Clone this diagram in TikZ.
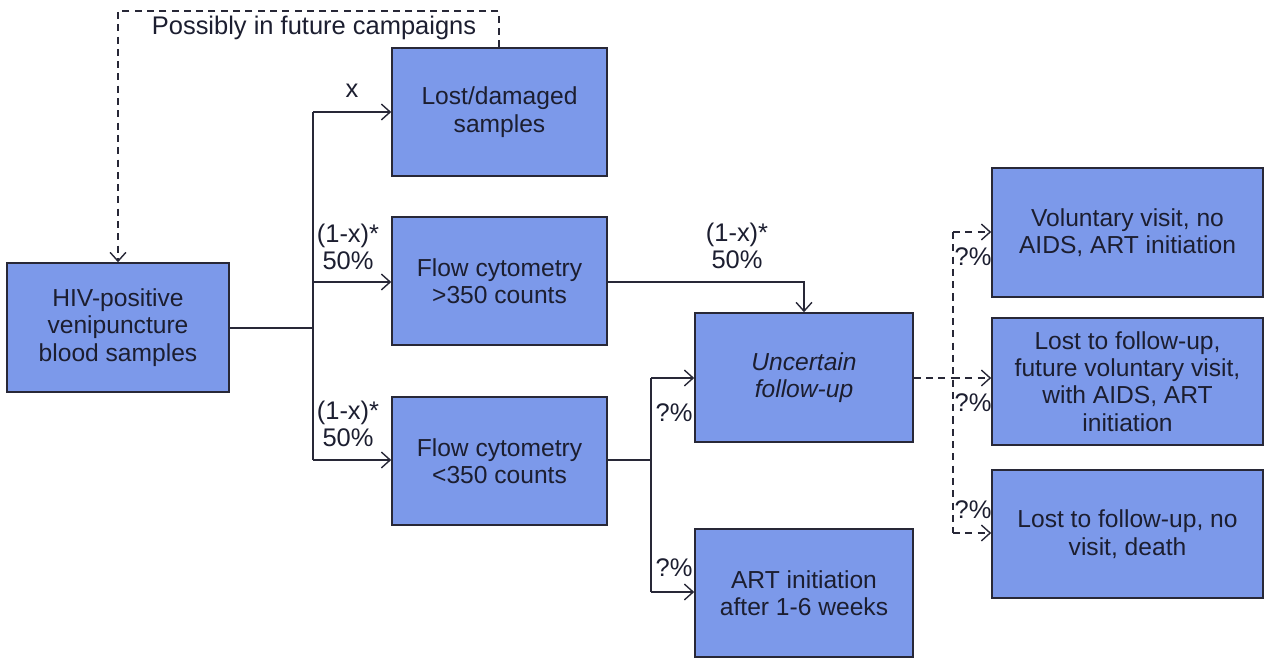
\documentclass[tikz,border=0pt]{standalone}
\usepackage{fontspec}
\setmainfont{Liberation Sans}
\usetikzlibrary{arrows.meta}
\definecolor{boxblue}{RGB}{124,153,234}
\definecolor{boxline}{RGB}{40,40,55}
\definecolor{txt}{RGB}{28,30,48}
\tikzset{
  box/.style={draw=boxline, line width=0.9pt, fill=boxblue, text=txt, align=center, inner sep=0pt,
    font=\fontsize{14}{15.6}\selectfont},
  lbl/.style={text=txt, align=center, inner sep=0pt, font=\fontsize{14.5}{15}\selectfont},
  conn/.style={draw=boxline, line width=0.8pt},
  arr/.style={conn, -{Straight Barb[length=5pt,width=9pt,line width=0.8pt]}},
  darr/.style={arr, dash pattern=on 4pt off 3pt},
  dconn/.style={conn, dash pattern=on 4pt off 3pt},
}
\newcommand{\mybox}[6]{% name, x1, y1, x2, y2, text
  \node[box, minimum width={(#4-#2)*0.02cm}, minimum height={(#5-#3)*0.02cm}] (#1) at ({(#2+#4)/2},{(#3+#5)/2}) {#6};}
\begin{document}
\begin{tikzpicture}[x=0.02cm,y=-0.02cm]
\useasboundingbox (0,0) rectangle (1265,658);
\mybox{hiv}{7}{263}{229}{392}{HIV-positive\\venipuncture\\blood samples}
\mybox{lost}{392}{48}{607}{176}{Lost/damaged\\samples}
\mybox{fhi}{392}{217}{607}{345}{Flow cytometry\\>350 counts}
\mybox{flo}{392}{397}{607}{525}{Flow cytometry\\<350 counts}
\mybox{unc}{695}{313}{913}{442}{\itshape Uncertain\\\itshape follow-up}
\mybox{art}{695}{529}{913}{657}{ART initiation\\after 1-6 weeks}
\mybox{vol}{992}{168}{1263}{297}{Voluntary visit, no\\AIDS, ART initiation}
\mybox{ltf}{992}{318}{1263}{445}{Lost to follow-up,\\future voluntary visit,\\with AIDS, ART\\initiation}
\mybox{dth}{992}{470}{1263}{598}{Lost to follow-up, no\\visit, death}

\coordinate (t1) at (313,112);
\coordinate (t2) at (313,460);
\coordinate (t3) at (651,378);
\coordinate (t4) at (651,592);
\coordinate (t5) at (953,232);
\coordinate (t6) at (953,533);

% HIV fan-out
\draw[conn] (hiv.east |- 0,328) -- (313,328);
\draw[conn] (t1) -- (t2);
\draw[arr] (t1) -- (lost.west |- t1);
\draw[arr] (313,282) -- (fhi.west |- 0,282);
\draw[arr] (t2) -- (flo.west |- t2);

% fhi -> unc
\draw[arr] (fhi.east |- 0,282) -| (unc.north);

% flo -> unc / art
\draw[conn] (flo.east |- 0,460) -- (651,460);
\draw[conn] (t3) -- (t4);
\draw[arr] (t3) -- (unc.west |- t3);
\draw[arr] (t4) -- (art.west |- t4);

% unc -> outcomes (dashed)
\draw[dconn] (unc.east |- 0,378) -- (953,378);
\draw[dconn] (t5) -- (t6);
\draw[darr] (t5) -- (vol.west |- t5);
\draw[darr] (953,378) -- (ltf.west |- 0,378);
\draw[darr] (t6) -- (dth.west |- t6);

% feedback loop
\coordinate (fb1) at (499,11);
\coordinate (fb2) at (118,11);
\draw[darr] (lost.north -| fb1) -- (fb1) -- (fb2) -- (hiv.north -| fb2);

% labels
\node[lbl] (lp) at (314,28) {Possibly in future campaigns};
\node[lbl] (lx) at (352,91) {x};
\node[lbl] (l1) at (348,247) {(1-x)*\\50\%};
\node[lbl] (l2) at (348,424) {(1-x)*\\50\%};
\node[lbl] (l3) at (737,246) {(1-x)*\\50\%};
\node[lbl] (q1) at (674,413) {?\%};
\node[lbl] (q2) at (674,568) {?\%};
\node[lbl] (q3) at (973,257) {?\%};
\node[lbl] (q4) at (973,403) {?\%};
\node[lbl] (q5) at (973,510) {?\%};
\end{tikzpicture}
\end{document}
